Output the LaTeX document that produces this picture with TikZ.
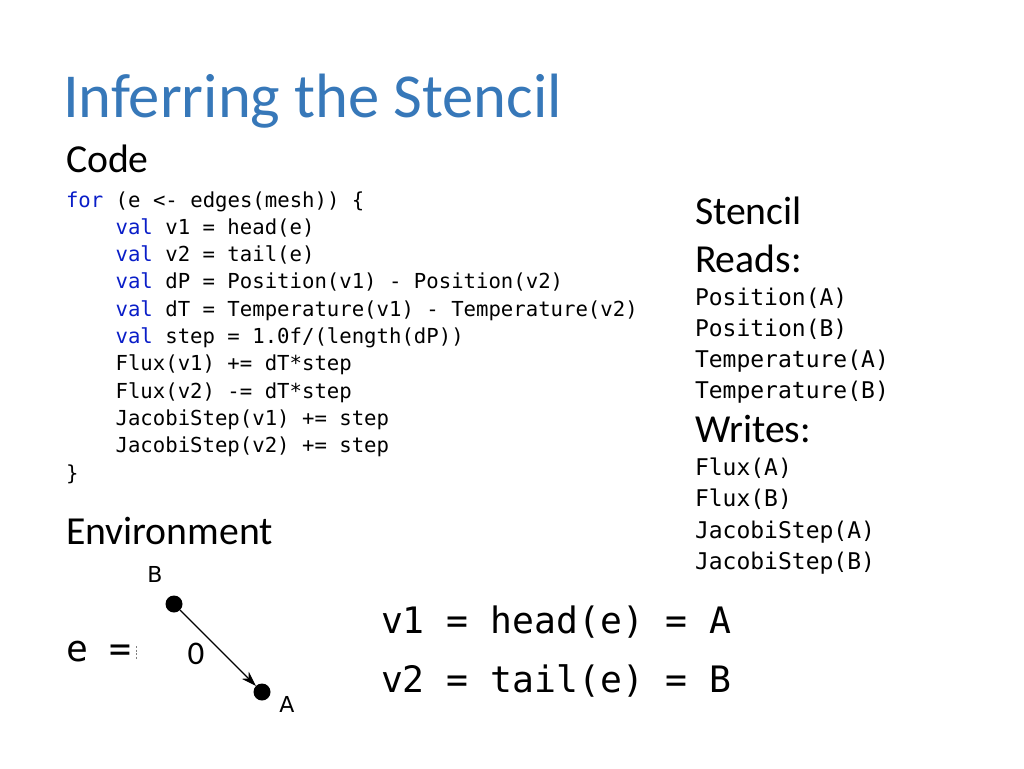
\documentclass[tikz,border=0pt]{standalone}
\usepackage{fontspec}
\setmainfont{Carlito}
\newfontfamily\codefont{DejaVu Sans Mono}
\newfontfamily\labfont{DejaVu Sans}
\usetikzlibrary{arrows.meta}
\definecolor{titleblue}{RGB}{55,120,185}
\definecolor{kwblue}{RGB}{10,30,200}
\tikzset{
  txt/.style={anchor=base west, inner sep=0pt, outer sep=0pt},
  titletext/.style={txt, font=\fontsize{62.6}{70}\selectfont, text=titleblue},
  headtext/.style={txt, font=\fontsize{39.7}{46}\selectfont},
  codeline/.style={txt, font=\codefont\fontsize{20.65}{24}\selectfont},
  stenline/.style={txt, font=\codefont\fontsize{23}{27}\selectfont},
  bigline/.style={txt, font=\codefont\fontsize{36.4}{42}\selectfont},
  vlabel/.style={inner sep=0pt, font=\labfont\fontsize{22}{26}\selectfont},
  elabel/.style={inner sep=0pt, font=\fontsize{33}{38}\selectfont},
  vertex/.style={circle, fill=black, minimum size=17pt, inner sep=0pt},
  edgearrow/.style={-{Stealth[length=15pt,width=10pt]}, line width=1.2pt},
}
\newcommand{\kw}[1]{\textcolor{kwblue}{#1}}
\begin{document}
\begin{tikzpicture}[x=1pt,y=-1pt]
\useasboundingbox[fill=white] (0,0) rectangle (1024,768);

\node[titletext] (title) at (63,117) {Inferring the Stencil};
\node[headtext] (code) at (66,172) {Code};

\node[codeline] (l1) at (66,207) {\kw{for} (e <- edges(mesh)) \{};
\node[codeline] (l2) at (115.6,234.3) {\kw{val} v1 = head(e)};
\node[codeline] (l3) at (115.6,261.6) {\kw{val} v2 = tail(e)};
\node[codeline] (l4) at (115.6,288.9) {\kw{val} dP = Position(v1) - Position(v2)};
\node[codeline] (l5) at (115.6,316.2) {\kw{val} dT = Temperature(v1) - Temperature(v2)};
\node[codeline] (l6) at (115.6,343.5) {\kw{val} step = 1.0f/(length(dP))};
\node[codeline] (l7) at (115.6,370.8) {Flux(v1) += dT*step};
\node[codeline] (l8) at (115.6,398.1) {Flux(v2) -= dT*step};
\node[codeline] (l9) at (115.6,425.4) {JacobiStep(v1) += step};
\node[codeline] (l10) at (115.6,452.7) {JacobiStep(v2) += step};
\node[codeline] (l11) at (66,480) {\}};

\node[headtext] (stencil) at (695,224) {Stencil};
\node[headtext] (reads) at (695,272) {Reads:};
\node[stenline] (r1) at (695,305) {Position(A)};
\node[stenline] (r2) at (695,336) {Position(B)};
\node[stenline] (r3) at (695,367) {Temperature(A)};
\node[stenline] (r4) at (695,398) {Temperature(B)};
\node[headtext] (writes) at (695,442) {Writes:};
\node[stenline] (w1) at (695,475) {Flux(A)};
\node[stenline] (w2) at (695,506) {Flux(B)};
\node[stenline] (w3) at (695,538) {JacobiStep(A)};
\node[stenline] (w4) at (695,569) {JacobiStep(B)};

\node[headtext] (env) at (66,544) {Environment};

\node[bigline] (eeq) at (66,661) {e =};
\draw[gray, line width=0.8pt, dash pattern=on 2pt off 1.5pt] (136.5,646) -- (136.5,660);

\node[vertex] (B) at (174,604) {};
\node[vertex] (A) at (262,692) {};
\node[vlabel] (Blab) at (155,574) {B};
\node[vlabel] (Alab) at (287,704) {A};
\node[elabel] (zero) at (196,654) {0};
\draw[edgearrow] (B) -- (A);

\node[bigline] (v1) at (381,633) {v1 = head(e) = A};
\node[bigline] (v2) at (381,692) {v2 = tail(e) = B};
\end{tikzpicture}
\end{document}
